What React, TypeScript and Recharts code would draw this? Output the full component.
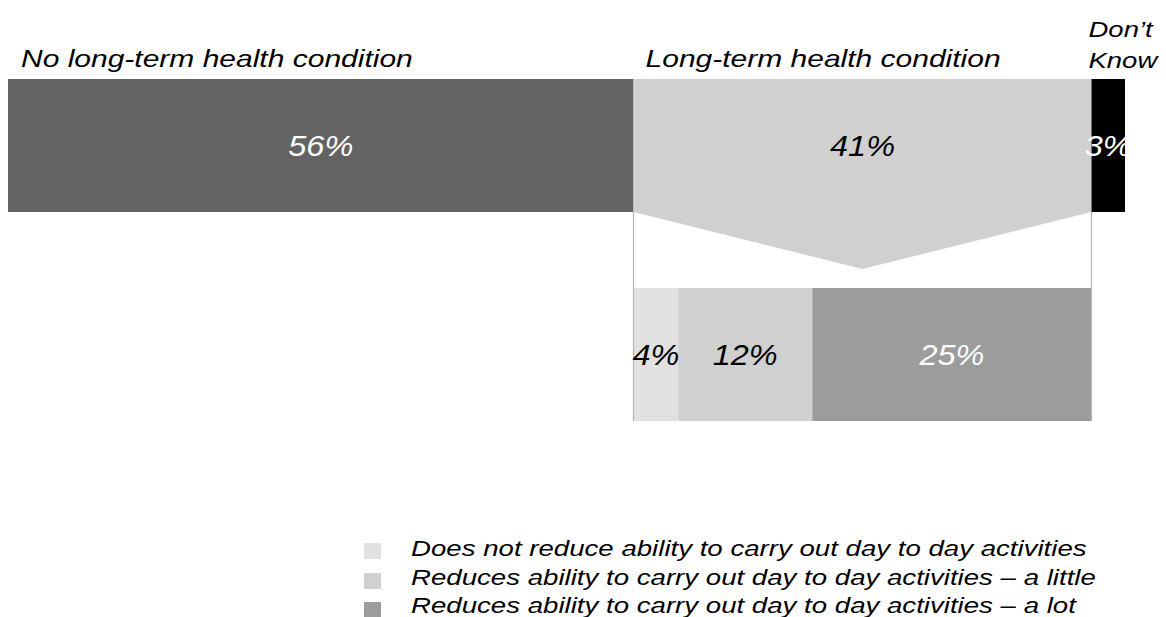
import React from "react";
import { BarChart, Bar, XAxis, YAxis, LabelList, Legend } from "recharts";

// ---- data ----
const rows = ["all", "lthc"];
const topCategories = ["No long-term health condition", "Long-term health condition", "Don’t Know"];
const topValues = [56, 41, 3];
const topColors = ["#636363", "#cfd0cf", "#000000"];
const topLabelColors = ["#ffffff", "#000000", "#ffffff"];

const breakdownLabels = [
  "Does not reduce ability to carry out day to day activities",
  "Reduces ability to carry out day to day activities – a little",
  "Reduces ability to carry out day to day activities – a lot",
];
const breakdownValues = [4, 12, 25];
const breakdownColors = ["#e1e1e1", "#cfd0cf", "#9c9c9c"];
const breakdownLabelColors = ["#000000", "#000000", "#ffffff"];

const topKeys = ["s0", "s1", "s2"];
const subKeys = ["b0", "b1", "b2"];

const chartData: any[] = [
  { row: rows[0], s0: topValues[0], s1: topValues[1], s2: topValues[2] },
  { row: rows[1], offset: topValues[0], b0: breakdownValues[0], b1: breakdownValues[1], b2: breakdownValues[2] },
];

// ---- layout ----
const CHART_W = 1166;
const CHART_H = 617;
const MARGIN = { top: 41, right: 41, bottom: 158, left: 8 };
const BAR_SIZE = 133;
const BAND = (CHART_H - MARGIN.top - MARGIN.bottom) / rows.length;
const GAP = BAND - BAR_SIZE;
const FUNNEL_DEPTH = 57;
const FONT = "'Liberation Sans', Arial, Helvetica, sans-serif";
const SX = 1.25;

function SText({ x, y, size, sx = SX, anchor = "start", fill = "#000", children }: any) {
  return (
    <text
      transform={`translate(${x},${y}) scale(${sx},1)`}
      fontSize={size}
      fontStyle="italic"
      fontFamily={FONT}
      textAnchor={anchor}
      fill={fill}
    >
      {children}
    </text>
  );
}

const valueLabel = (key: string, color: string) => (props: any) => {
  const { x, y, width, height, index } = props;
  const v = chartData[index] ? chartData[index][key] : undefined;
  if (v === undefined || v === null || !width) return null;
  return (
    <SText x={x + width / 2} y={y + height / 2 + 29 * 0.36} size={29} sx={1.12} anchor="middle" fill={color}>
      {`${v}%`}
    </SText>
  );
};

const titleOffsets = [13, 12, -3];
const titleLabel = (i: number) => (props: any) => {
  const { x, y, width, index } = props;
  const v = chartData[index] ? chartData[index][topKeys[i]] : undefined;
  if (v === undefined || v === null || !width) return null;
  const name = topCategories[i];
  const parts = name.split(" ");
  if (i === 2) {
    return (
      <g>
        <SText x={x + titleOffsets[i]} y={y - 42} size={22}>{parts[0]}</SText>
        <SText x={x + titleOffsets[i]} y={y - 11} size={22}>{parts.slice(1).join(" ")}</SText>
      </g>
    );
  }
  return (
    <SText x={x + titleOffsets[i]} y={y - 12} size={24}>{name}</SText>
  );
};

const FunnelShape = (props: any) => {
  const { x, y, width, height, fill } = props;
  if (!width || !height) return null;
  const b = y + height;
  return (
    <g>
      <rect x={x} y={y} width={width} height={height} fill={fill} />
      <polygon points={`${x},${b} ${x + width},${b} ${x + width / 2},${b + FUNNEL_DEPTH}`} fill={fill} />
    </g>
  );
};

const ConnectorShape = (side: "left" | "right") => (props: any) => {
  const { x, y, width, height, fill } = props;
  if (!width || !height) return null;
  const lx = side === "left" ? x : x + width;
  return (
    <g>
      <rect x={x} y={y} width={width} height={height} fill={fill} />
      <line x1={lx} x2={lx} y1={y - GAP} y2={y + height} stroke="#b5b5b5" strokeWidth={1.2} />
    </g>
  );
};

const PlainShape = (props: any) => {
  const { x, y, width, height, fill } = props;
  if (!width || !height) return null;
  return <rect x={x} y={y} width={width} height={height} fill={fill} />;
};

const renderLegend = () => {
  const sqY = [13, 43, 72];
  const txtY = [26, 55, 83];
  return (
    <svg width={CHART_W} height={87} style={{ display: "block" }}>
      {breakdownLabels.map((lab, i) => (
        <g key={lab}>
          <rect x={364} y={sqY[i]} width={17} height={16} fill={breakdownColors[i]} />
          <SText x={411} y={txtY[i]} size={22} sx={1.256}>{lab}</SText>
        </g>
      ))}
    </svg>
  );
};

export default function App() {
  return (
    <div style={{ position: "absolute", left: 0, top: 0, width: CHART_W, height: CHART_H, background: "#fff" }}>
      <BarChart
        width={CHART_W}
        height={CHART_H}
        data={chartData}
        layout="vertical"
        margin={MARGIN}
        barSize={BAR_SIZE}
      >
        <XAxis type="number" domain={[0, 100]} hide />
        <YAxis type="category" dataKey="row" hide />
        {topKeys.map((k, i) => (
          <Bar
            key={k}
            dataKey={k}
            stackId="a"
            fill={topColors[i]}
            isAnimationActive={false}
            shape={i === 1 ? FunnelShape : PlainShape}
          >
            <LabelList dataKey={k} content={valueLabel(k, topLabelColors[i])} />
            <LabelList dataKey={k} content={titleLabel(i)} />
          </Bar>
        ))}
        <Bar dataKey="offset" stackId="a" fill="transparent" isAnimationActive={false} shape={() => null} />
        {subKeys.map((k, i) => (
          <Bar
            key={k}
            dataKey={k}
            stackId="a"
            fill={breakdownColors[i]}
            isAnimationActive={false}
            shape={i === 0 ? ConnectorShape("left") : i === 2 ? ConnectorShape("right") : PlainShape}
          >
            <LabelList dataKey={k} content={valueLabel(k, breakdownLabelColors[i])} />
          </Bar>
        ))}
        <Legend
          layout="vertical"
          align="center"
          verticalAlign="middle"
          wrapperStyle={{ left: 0, top: 530, width: CHART_W, height: 87 }}
          content={renderLegend}
        />
      </BarChart>
    </div>
  );
}
